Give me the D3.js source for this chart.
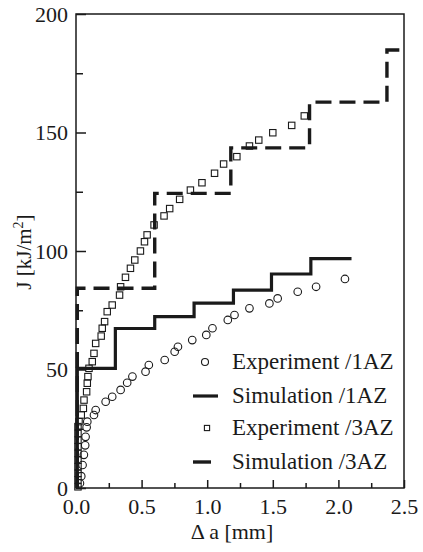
<!DOCTYPE html>
<html>
<head>
<meta charset="utf-8">
<script src="https://cdn.jsdelivr.net/npm/d3@7"></script>
<style>
  html, body { margin: 0; padding: 0; background: #fff; }
  svg text { font-family: "Liberation Serif", "Times New Roman", serif; fill: #1a1a1a; }
</style>
</head>
<body>
<svg id="chart" width="423" height="552"></svg>
<script>
// ---- data (Δa in mm, J in kJ/m²) ----
const exp1A_da = [0.03, 0.04, 0.05, 0.06, 0.07, 0.073, 0.081, 0.086, 0.137, 0.15, 0.226, 0.276, 0.34, 0.39, 0.43, 0.53, 0.555, 0.676, 0.752, 0.777, 0.886, 0.993, 1.04, 1.157, 1.208, 1.322, 1.474, 1.537, 1.69, 1.83, 2.05];
const exp1A_J  = [2, 5, 9.7, 14, 18, 21.6, 25.6, 28, 30.8, 32.9, 36.4, 38.5, 41.4, 44.4, 47, 49.1, 51.9, 54, 57.5, 59.6, 62.4, 64.6, 67.4, 70.9, 73, 75.8, 77.9, 80, 82.8, 84.9, 88.2];

const exp3A_da = [0.015, 0.015, 0.015, 0.015, 0.015, 0.015, 0.015, 0.015, 0.015, 0.015, 0.023, 0.04, 0.056, 0.061, 0.081, 0.086, 0.091, 0.099, 0.124, 0.137, 0.15, 0.192, 0.2, 0.218, 0.238, 0.276, 0.332, 0.34, 0.377, 0.415, 0.448, 0.491, 0.522, 0.542, 0.595, 0.671, 0.714, 0.79, 0.872, 0.96, 1.056, 1.125, 1.226, 1.322, 1.393, 1.5, 1.644, 1.74];
const exp3A_J  = [0.5, 3.4, 6.2, 9, 11.8, 14.6, 17.4, 20.2, 23, 25.9, 28, 30.8, 33.6, 37.1, 40.6, 44.2, 47, 50.5, 53.3, 56.8, 61, 64.1, 67.4, 70.2, 74.4, 77.2, 81.4, 84.9, 88.9, 92.7, 96.2, 100, 103.9, 106.8, 111, 114.8, 117.9, 121.8, 125.7, 128.8, 132.8, 136.7, 139.8, 144.3, 146.8, 149.9, 153, 157];

// simulation step curves: level starts and J levels, plus end of last level
const sim1A_start = [0.01, 0.30, 0.60, 0.90, 1.20, 1.49, 1.79];
const sim1A_J     = [50.5, 67.3, 72.3, 78, 83.5, 90.3, 96.8];
const sim1A_end   = 2.10;

const sim3A_start = [0.01, 0.60, 1.18, 1.78, 2.37];
const sim3A_J     = [84.3, 124.3, 143.5, 162.8, 184.8];
const sim3A_end   = 2.48;

const xTicks = [0.0, 0.5, 1.0, 1.5, 2.0, 2.5];
const xMinor = [0.25, 0.75, 1.25, 1.75, 2.25];
const yTicks = [0, 50, 100, 150, 200];
const yMinor = [25, 75, 125, 175];

const legendLabels = ["Experiment /1AZ", "Simulation /1AZ", "Experiment /3AZ", "Simulation /3AZ"];

// ---- layout ----
const svg = d3.select("#chart");
const L = 76, R = 404, T = 14, B = 488;
const x = d3.scaleLinear().domain([0, 2.5]).range([L, R]);
const y = d3.scaleLinear().domain([0, 200]).range([B, T]);
const ink = "#1a1a1a";

// frame
svg.append("rect").attr("x", L).attr("y", T).attr("width", R - L).attr("height", B - T)
  .attr("fill", "none").attr("stroke", ink).attr("stroke-width", 1.5);

// axes
function styleAxis(g) {
  g.select(".domain").remove();
  g.selectAll(".tick line").attr("stroke", ink).attr("stroke-width", 1.5);
  g.selectAll(".tick text").attr("font-size", 22).style("font-family", '"Liberation Serif", "Times New Roman", serif').attr("fill", ink);
}
svg.append("g").attr("transform", `translate(0,${B})`)
  .call(d3.axisBottom(x).tickValues(xTicks).tickFormat(d3.format(".1f")).tickSize(-8).tickPadding(10))
  .call(styleAxis);
svg.append("g").attr("transform", `translate(0,${B})`)
  .call(d3.axisBottom(x).tickValues(xMinor).tickFormat("").tickSize(-5))
  .call(styleAxis);
svg.append("g").attr("transform", `translate(${L},0)`)
  .call(d3.axisLeft(y).tickValues(yTicks).tickFormat(d3.format("d")).tickSize(-10).tickPadding(8))
  .call(styleAxis);
svg.append("g").attr("transform", `translate(${L},0)`)
  .call(d3.axisLeft(y).tickValues(yMinor).tickFormat("").tickSize(-7))
  .call(styleAxis);

// axis titles
svg.append("text").attr("x", 232).attr("y", 539).attr("text-anchor", "middle")
  .attr("font-size", 22).text("Δ a [mm]");
const yt = svg.append("text").attr("transform", "translate(31,252) rotate(-90)")
  .attr("text-anchor", "middle").attr("font-size", 21);
yt.append("tspan").text("J [kJ/m");
yt.append("tspan").attr("font-size", 14).attr("dy", -8).text("2");
yt.append("tspan").attr("dy", 8).text("]");

// step curves
function stepPoints(starts, levels, end) {
  const pts = [[starts[0], 0]];
  starts.forEach((s, i) => pts.push([s, levels[i]]));
  pts.push([end, levels[levels.length - 1]]);
  return pts;
}
const line = d3.line().x(d => x(d[0])).y(d => y(d[1])).curve(d3.curveStepAfter);

svg.append("path").datum(stepPoints(sim1A_start, sim1A_J, sim1A_end))
  .attr("d", line).attr("fill", "none").attr("stroke", ink).attr("stroke-width", 3.2);
svg.append("path").datum(stepPoints(sim3A_start, sim3A_J, sim3A_end))
  .attr("d", line).attr("fill", "none").attr("stroke", ink).attr("stroke-width", 3.4)
  .attr("stroke-dasharray", "16,8");

// experiment markers
svg.append("g").selectAll("circle").data(d3.zip(exp1A_da, exp1A_J)).join("circle")
  .attr("cx", d => x(d[0])).attr("cy", d => y(d[1])).attr("r", 3.8)
  .attr("fill", "none").attr("stroke", ink).attr("stroke-width", 1.1);
const sq = 6.4;
svg.append("g").selectAll("rect").data(d3.zip(exp3A_da, exp3A_J)).join("rect")
  .attr("x", d => x(d[0]) - sq / 2).attr("y", d => y(d[1]) - sq / 2)
  .attr("width", sq).attr("height", sq)
  .attr("fill", "none").attr("stroke", ink).attr("stroke-width", 1.1);

// legend
const legRows = [362, 396, 428, 462];
const leg = svg.append("g");
legendLabels.forEach((lab, i) => {
  leg.append("text").attr("x", 232).attr("y", legRows[i] + 6.5).attr("font-size", 23).text(lab);
});
leg.append("circle").attr("cx", 205).attr("cy", legRows[0]).attr("r", 3.5)
  .attr("fill", "none").attr("stroke", ink).attr("stroke-width", 1.1);
leg.append("line").attr("x1", 193).attr("x2", 218).attr("y1", legRows[1]).attr("y2", legRows[1])
  .attr("stroke", ink).attr("stroke-width", 3.2);
leg.append("rect").attr("x", 207 - 2.6).attr("y", legRows[2] - 2.6).attr("width", 5.2).attr("height", 5.2)
  .attr("fill", "none").attr("stroke", ink).attr("stroke-width", 1.1);
leg.append("line").attr("x1", 193).attr("x2", 211).attr("y1", legRows[3]).attr("y2", legRows[3])
  .attr("stroke", ink).attr("stroke-width", 3.4);
</script>
</body>
</html>
